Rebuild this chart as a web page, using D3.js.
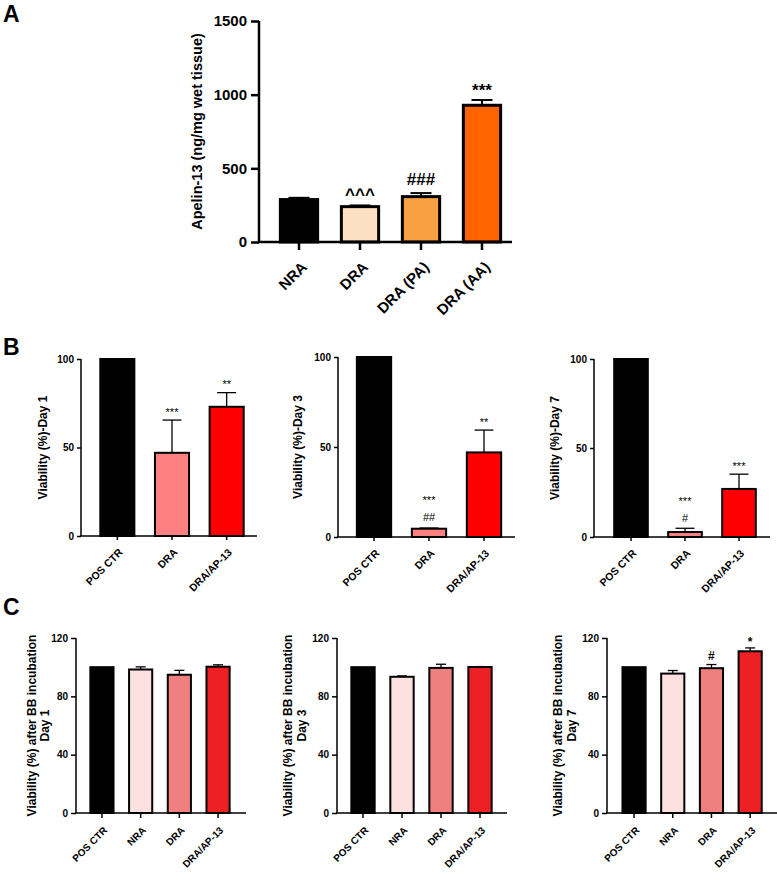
<!DOCTYPE html>
<html>
<head>
<meta charset="utf-8">
<script src="https://cdn.jsdelivr.net/npm/d3@7/dist/d3.min.js"></script>
<style>
  html, body { margin: 0; padding: 0; background: #fff; }
  svg { display: block; font-family: "Liberation Sans", Arial, sans-serif; }
</style>
</head>
<body>
<svg id="chart" width="777" height="880"></svg>
<script>
// ---------------- DATA ----------------
// Panel A
const aCategories = ["NRA", "DRA", "DRA (PA)", "DRA (AA)"];
const aValues = [288, 240, 308, 928];
const aErrors = [12, 8, 24, 36];
const aSig = [[], ["^^^"], ["###"], ["***"]];
const aTicks = [0, 500, 1000, 1500];
const aColors = ["#000000", "#fde0c4", "#f9a044", "#ff6400"];

// Panel B
const bCategories = ["POS CTR", "DRA", "DRA/AP-13"];
const bTicks = [0, 50, 100];
const bColors = ["#000000", "#ff8080", "#ff0000"];
const bDay1Values = [100, 47, 73];
const bDay1Errors = [0, 18.5, 8];
const bDay1Sig = [[], ["***"], ["**"]];
const bDay3Values = [100, 4.6, 47];
const bDay3Errors = [0, 0.4, 12.4];
const bDay3Sig = [[], ["***", "##"], ["**"]];
const bDay7Values = [100, 2.8, 27];
const bDay7Errors = [0, 2.1, 8.3];
const bDay7Sig = [[], ["***", "#"], ["***"]];

// Panel C
const cCategories = ["POS CTR", "NRA", "DRA", "DRA/AP-13"];
const cTicks = [0, 40, 80, 120];
const cColors = ["#000000", "#fde0e0", "#f08080", "#ed2024"];
const cDay1Values = [100, 98.4, 94.8, 100.3];
const cDay1Errors = [0, 1.8, 3.0, 1.3];
const cDay1Sig = [[], [], [], []];
const cDay3Values = [100, 93.4, 99.5, 100.1];
const cDay3Errors = [0, 0.6, 2.5, 0.3];
const cDay3Sig = [[], [], [], []];
const cDay7Values = [100, 95.6, 99.3, 110.9];
const cDay7Errors = [0, 2.1, 2.5, 2.3];
const cDay7Sig = [[], [], ["#"], ["*"]];

// ---------------- DRAWING ----------------
const svg = d3.select("#chart");
const glyphCenter = { "*": 0.57, "^": 0.52, "#": 0.36 };

function drawPanel(p) {
  const g = svg.append("g");
  const y = d3.scaleLinear().domain([0, p.ticks[p.ticks.length - 1]]).range([p.yBottom, p.yTop]);
  const x = d3.scaleBand().domain(p.categories).range([p.bandStart, p.bandEnd]).paddingInner(p.padding).paddingOuter(p.padding / 2);

  const data = p.categories.map((c, i) => ({ c, v: p.values[i], e: p.errors[i], s: p.sig[i], col: p.colors[i] }));

  // bars
  g.selectAll("rect.bar").data(data).enter().append("rect")
    .attr("class", "bar")
    .attr("x", d => x(d.c) + p.barStroke / 2)
    .attr("width", x.bandwidth() - p.barStroke)
    .attr("y", d => y(d.v))
    .attr("height", d => y(0) - y(d.v))
    .attr("fill", d => d.col)
    .attr("stroke", "#000")
    .attr("stroke-width", p.barStroke);

  // error bars (upper only)
  const eb = data.filter(d => d.e > 0);
  g.selectAll("line.err").data(eb).enter().append("line")
    .attr("x1", d => x(d.c) + x.bandwidth() / 2)
    .attr("x2", d => x(d.c) + x.bandwidth() / 2)
    .attr("y1", d => y(d.v))
    .attr("y2", d => y(d.v + d.e))
    .attr("stroke", "#000").attr("stroke-width", p.errStroke);
  g.selectAll("line.cap").data(eb).enter().append("line")
    .attr("x1", d => x(d.c) + x.bandwidth() / 2 - p.capW / 2)
    .attr("x2", d => x(d.c) + x.bandwidth() / 2 + p.capW / 2)
    .attr("y1", d => y(d.v + d.e))
    .attr("y2", d => y(d.v + d.e))
    .attr("stroke", "#000").attr("stroke-width", p.errStroke);

  // significance labels
  data.forEach(d => {
    const top = y(d.v + d.e);
    const n = d.s.length;
    d.s.forEach((txt, k) => {
      const center = top - p.sigGap - (n - 1 - k) * p.sigLine;
      const gc = glyphCenter[txt[0]] || 0.4;
      g.append("text")
        .attr("x", x(d.c) + x.bandwidth() / 2)
        .attr("y", center + gc * p.sigSize)
        .attr("text-anchor", "middle")
        .attr("font-size", p.sigSize)
        .attr("font-weight", p.sigWeight)
        .attr("fill", "#000")
        .text(txt);
    });
  });

  // y axis
  const ya = g.append("g").attr("transform", `translate(${p.axisX},0)`)
    .call(d3.axisLeft(y).tickValues(p.ticks).tickFormat(d3.format("d")).tickSize(p.tickLen).tickSizeOuter(0).tickPadding(p.tickPad));
  ya.select(".domain").attr("stroke-width", p.axisStroke).attr("d", `M0,${p.yBottom}V${p.yTop}`);
  ya.selectAll(".tick line").attr("stroke-width", p.axisStroke);
  ya.selectAll(".tick text").attr("font-size", p.tickFont).attr("font-weight", "bold")
    .attr("font-family", "Liberation Sans, Arial, sans-serif").attr("fill", "#000");

  // x axis ticks
  const xa = g.append("g").attr("transform", `translate(0,${p.yBottom})`)
    .call(d3.axisBottom(x).tickSize(p.tickLen).tickSizeOuter(0).tickFormat(""));
  xa.select(".domain").remove();
  xa.selectAll(".tick line").attr("stroke-width", p.axisStroke);
  xa.selectAll(".tick text").remove();

  // rotated category labels
  p.categories.forEach(c => {
    const lx = x(c) + x.bandwidth() / 2 + p.xLabDx;
    const ly = p.yBottom + p.tickLen + p.xLabDy;
    g.append("text")
      .attr("text-anchor", "end")
      .attr("font-size", p.xFont).attr("font-weight", "bold")
      .attr("fill", "#000")
      .attr("x", lx).attr("y", ly)
      .attr("transform", `rotate(-45,${lx},${ly})`)
      .text(c);
  });

  g.append("line")
    .attr("x1", p.axisX - p.axisStroke / 2).attr("x2", p.axisEnd)
    .attr("y1", p.yBottom).attr("y2", p.yBottom)
    .attr("stroke", "#000").attr("stroke-width", p.axisStroke);

  // y label (one text element per line)
  const cy = (p.yTop + p.yBottom) / 2;
  p.yLabel.forEach((line, i) => {
    g.append("text")
      .attr("x", p.labX[i]).attr("y", cy)
      .attr("transform", `rotate(-90,${p.labX[i]},${cy})`)
      .attr("text-anchor", "middle")
      .attr("font-size", p.labFont).attr("font-weight", "bold")
      .attr("fill", "#000")
      .text(line);
  });
}

const A = { categories: aCategories, values: aValues, errors: aErrors, sig: aSig, ticks: aTicks, colors: aColors,
  axisX: 259, axisEnd: 512, bandStart: 268.5, bandEnd: 512.5, padding: 0.34, yTop: 21, yBottom: 242,
  barStroke: 3, errStroke: 2, capW: 21, axisStroke: 2.5, tickLen: 8, tickPad: 4, tickFont: 15, xFont: 15,
  xLabDx: 9, xLabDy: 18, sigSize: 17, sigWeight: "bold", sigGap: 14, sigLine: 18,
  labFont: 14.5, yLabel: ["Apelin-13 (ng/mg wet tissue)"], labX: [202] };

const Bbase = { categories: bCategories, ticks: bTicks, colors: bColors, padding: 0.34,
  barStroke: 2, errStroke: 1.3, capW: 19, axisStroke: 1.5, tickLen: 4, tickPad: 3, tickFont: 10, xFont: 10.5,
  xLabDx: 6, xLabDy: 13, sigSize: 11, sigWeight: "normal", sigGap: 10.5, sigLine: 19.5,
  labFont: 12, yLabel: [] };

const B1 = Object.assign({}, Bbase, { values: bDay1Values, errors: bDay1Errors, sig: bDay1Sig,
  axisX: 81, axisEnd: 257, bandStart: 90, bandEnd: 254, yTop: 359, yBottom: 536,
  yLabel: ["Viability (%)-Day 1"], labX: [47] });
const B2 = Object.assign({}, Bbase, { values: bDay3Values, errors: bDay3Errors, sig: bDay3Sig,
  axisX: 338, axisEnd: 515, bandStart: 346.5, bandEnd: 511.5, yTop: 357, yBottom: 537,
  yLabel: ["Viability (%)-Day 3"], labX: [302] });
const B3 = Object.assign({}, Bbase, { values: bDay7Values, errors: bDay7Errors, sig: bDay7Sig,
  axisX: 594, axisEnd: 770, bandStart: 604, bandEnd: 766, yTop: 359, yBottom: 537,
  yLabel: ["Viability (%)-Day 7"], labX: [559] });

const Cbase = { categories: cCategories, ticks: cTicks, colors: cColors, padding: 0.35,
  barStroke: 2, errStroke: 1.3, capW: 10, axisStroke: 1.5, tickLen: 5, tickPad: 3, tickFont: 10, xFont: 10,
  xLabDx: 6, xLabDy: 13, sigSize: 12, sigWeight: "bold", sigGap: 8.5, sigLine: 14,
  labFont: 12 };

const C1 = Object.assign({}, Cbase, { values: cDay1Values, errors: cDay1Errors, sig: cDay1Sig,
  axisX: 76, axisEnd: 246, bandStart: 82.6, bandEnd: 237.4, yTop: 638, yBottom: 813,
  yLabel: ["Viability (%) after BB incubation", "Day 1"], labX: [36, 49] });
const C2 = Object.assign({}, Cbase, { values: cDay3Values, errors: cDay3Errors, sig: cDay3Sig,
  axisX: 337, axisEnd: 507, bandStart: 343.5, bandEnd: 499.5, yTop: 638, yBottom: 813,
  yLabel: ["Viability (%) after BB incubation", "Day 3"], labX: [292, 306] });
const C3 = Object.assign({}, Cbase, { values: cDay7Values, errors: cDay7Errors, sig: cDay7Sig,
  axisX: 607, axisEnd: 777, bandStart: 614.7, bandEnd: 769.5, yTop: 638, yBottom: 813,
  yLabel: ["Viability (%) after BB incubation", "Day 7"], labX: [562, 576] });

[A, B1, B2, B3, C1, C2, C3].forEach(drawPanel);

// panel letters
[["A", 3, 22], ["B", 3, 355], ["C", 3, 615]].forEach(([t, px, py]) => {
  svg.append("text").attr("x", px).attr("y", py).attr("font-size", 23).attr("font-weight", "bold").text(t);
});
</script>
</body>
</html>
